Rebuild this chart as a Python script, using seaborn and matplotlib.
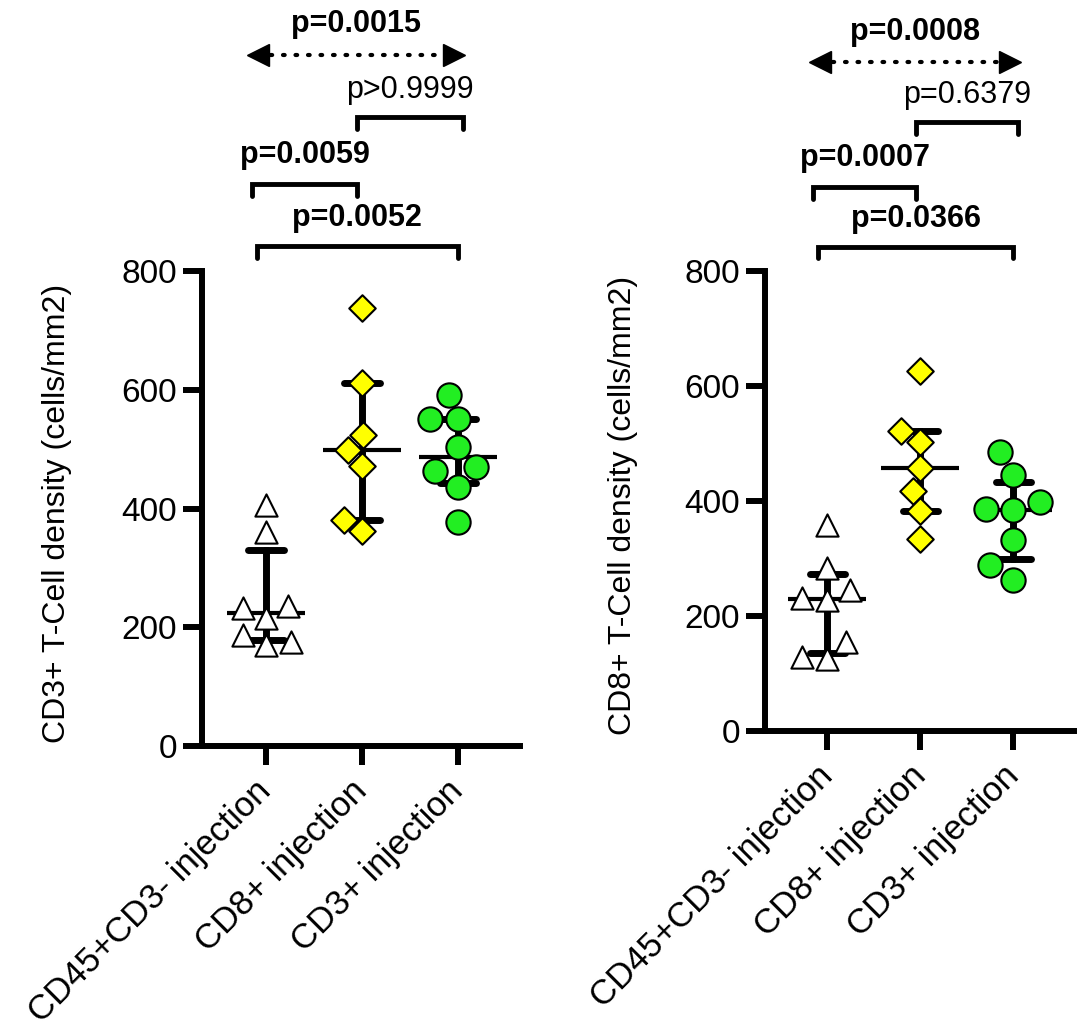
import numpy as np
import pandas as pd
import matplotlib
matplotlib.use("Agg")
import matplotlib.pyplot as plt
import seaborn as sns

# --- DATA ---
groups = ["CD45+CD3- injection", "CD8+ injection", "CD3+ injection"]

# CD3+ T-cell density, cells/mm2
cd3_ctrl = [406, 361, 235, 232, 215, 187, 176, 170]
cd3_cd8 = [738, 611, 524, 499, 472, 381, 362]
cd3_cd3 = [592, 550, 550, 504, 470, 463, 437, 377]

# CD8+ T-cell density, cells/mm2
cd8_ctrl = [358, 283, 246, 232, 228, 155, 129, 126]
cd8_cd8 = [626, 521, 503, 458, 417, 383, 334]
cd8_cd3 = [485, 445, 398, 386, 384, 332, 288, 263]

# p-values: [ctrl vs CD3+, ctrl vs CD8+, CD8+ vs CD3+, overall]
cd3_pvals = ["p=0.0052", "p=0.0059", "p>0.9999", "p=0.0015"]
cd8_pvals = ["p=0.0366", "p=0.0007", "p=0.6379", "p=0.0008"]

ylabels = ["CD3+ T-Cell density (cells/mm2)", "CD8+ T-Cell density (cells/mm2)"]


def make_df(series):
    rows = []
    for g, vals in zip(groups, series):
        for v in vals:
            rows.append({"group": g, "value": v})
    return pd.DataFrame(rows)


panels = [
    (make_df([cd3_ctrl, cd3_cd8, cd3_cd3]), cd3_pvals, ylabels[0]),
    (make_df([cd8_ctrl, cd8_cd8, cd8_cd3]), cd8_pvals, ylabels[1]),
]

# --- STYLE ---
sns.set_style("ticks", {"axes.edgecolor": "black", "xtick.color": "black",
                        "ytick.color": "black", "text.color": "black",
                        "axes.labelcolor": "black"})
plt.rcParams["font.family"] = ["Liberation Sans", "DejaVu Sans"]

markers = ["^", "D", "o"]
faces = ["white", "#FFFF00", "#22EE22"]
msizes = [16, 13.5, 17.5]

FIG_W, FIG_H = 1081, 1030


def iqr(v):
    return tuple(np.percentile(v, [25, 75], method="weibull"))


def bracket(ax, x1, x2, y, ty, text, bold):
    ax.plot([x1, x1, x2, x2], [y - 20, y, y, y - 20], color="black", lw=3.5,
            clip_on=False, solid_joinstyle="miter")
    ax.text((x1 + x2) / 2, ty, text, ha="center", va="baseline", fontsize=22,
            fontweight="bold" if bold else "normal")


def dotted_arrow(ax, x1, x2, y, head_pt=16):
    # dotted shaft with solid triangular heads at both ends
    x0, x9 = ax.get_xlim()
    px_per_unit = ax.get_position().width * FIG_W / (x9 - x0)
    half = head_pt * 100 / 72 / 2 / px_per_unit
    ax.plot([x1 + half, x2 - half], [y, y], color="black", lw=3,
            linestyle=(0, (0.4, 2.6)), dash_capstyle="round", clip_on=False)
    ax.plot([x1 + half], [y], marker="<", ms=head_pt, color="black", clip_on=False)
    ax.plot([x2 - half], [y], marker=">", ms=head_pt, color="black", clip_on=False)


fig = plt.figure(figsize=(FIG_W / 100, FIG_H / 100), dpi=100)
axes = [fig.add_axes([0.1869, 0.2757, 0.2942, 0.4612]),
        fig.add_axes([0.7077, 0.2903, 0.2858, 0.4466])]

for ax, (df, pvals, ylab) in zip(axes, panels):
    # median with interquartile range
    sns.pointplot(data=df, x="group", y="value", order=groups, estimator="median",
                  errorbar=iqr, capsize=0.38, color="black", linestyle="none",
                  marker="_", markersize=56, markeredgewidth=3,
                  err_kws={"linewidth": 5}, ax=ax)
    for g, m, fc, s in zip(groups, markers, faces, msizes):
        sub = df[df["group"] == g]
        sns.swarmplot(data=sub, x="group", y="value", order=groups, marker=m,
                      color=fc, edgecolor="black", linewidth=1.5, size=s,
                      zorder=4, ax=ax)

    ax.set_xlim(-0.67, 2.65)
    ax.set_ylim(0, 800)
    ax.set_yticks([0, 200, 400, 600, 800])
    ax.set_xticks(range(3))
    ax.set_xticklabels(groups, rotation=45, ha="right", va="center",
                       rotation_mode="anchor", fontsize=25)
    ax.tick_params(axis="y", labelsize=24, width=4.3, length=14, pad=4)
    ax.tick_params(axis="x", width=4.3, length=14, pad=15)
    sns.despine(ax=ax)
    for side in ["left", "bottom"]:
        ax.spines[side].set_linewidth(4.3)
    ax.set_xlabel("")
    ax.set_ylabel(ylab, fontsize=23)
    ax.yaxis.set_label_coords(-0.41, 0.49)

    # significance brackets
    bracket(ax, -0.10, 2.00, 842, 876, pvals[0], True)
    bracket(ax, -0.15, 0.95, 946, 982, pvals[1], True)
    bracket(ax, 0.95, 2.05, 1059, 1092, pvals[2], False)
    dotted_arrow(ax, -0.2, 2.08, 1163)
    ax.text(0.94, 1202, pvals[3], ha="center", va="baseline", fontsize=22,
            fontweight="bold")

fig.savefig("out.png", dpi=100)
